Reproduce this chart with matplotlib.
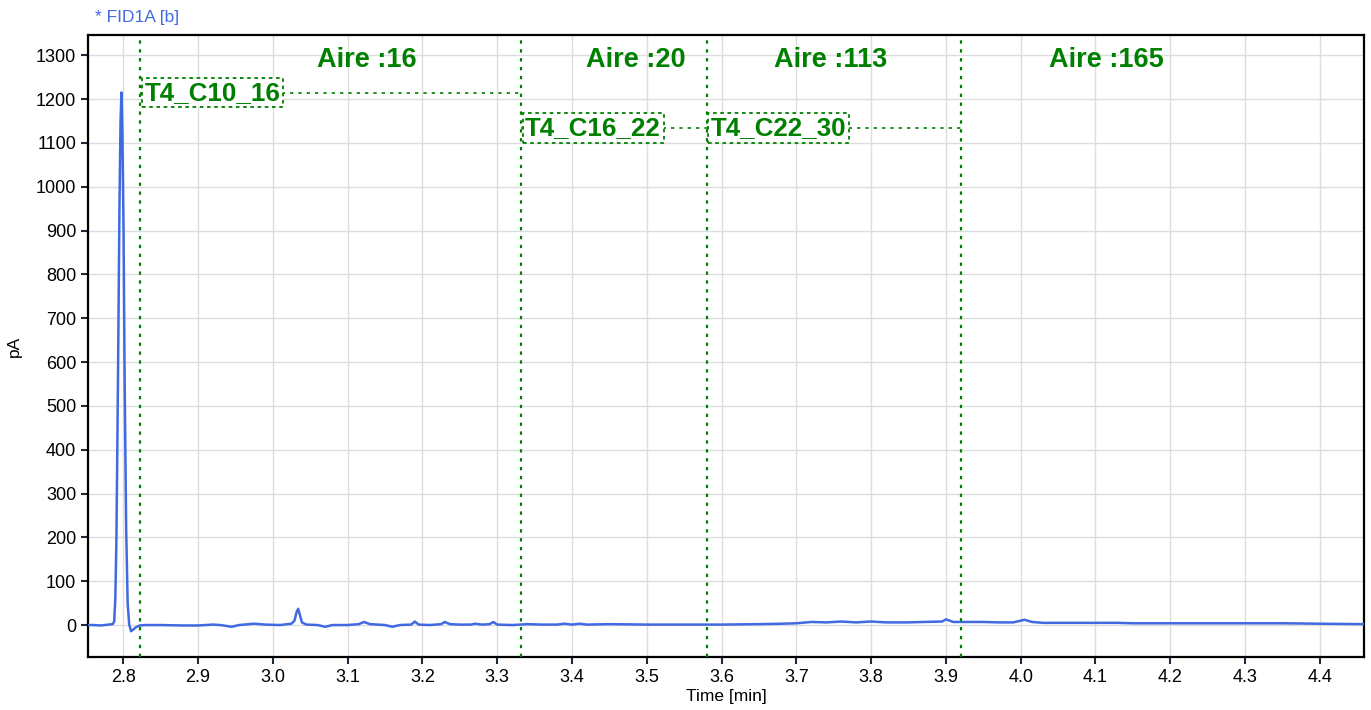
import matplotlib
matplotlib.use('Agg')
import matplotlib.pyplot as plt

plt.rcParams['font.family'] = ['Liberation Sans', 'DejaVu Sans']

# chromatogram trace (time in min, signal in pA)
time = [2.753, 2.76, 2.77, 2.78, 2.786, 2.788, 2.7895, 2.791, 2.793, 2.795, 2.7965, 2.7977,
        2.799, 2.8005, 2.802, 2.804, 2.806, 2.808, 2.8105, 2.813, 2.817, 2.822, 2.83,
        2.85, 2.88, 2.9, 2.92, 2.93, 2.945, 2.955, 2.975, 2.99, 3.01, 3.025, 3.029,
        3.032, 3.034, 3.036, 3.039, 3.045, 3.06, 3.07, 3.08, 3.1, 3.115, 3.122, 3.13,
        3.15, 3.16, 3.17, 3.185, 3.19, 3.195, 3.21, 3.225, 3.23, 3.237, 3.25, 3.265,
        3.27, 3.28, 3.29, 3.295, 3.3, 3.32, 3.34, 3.36, 3.38, 3.39, 3.4, 3.41, 3.42,
        3.45, 3.5, 3.55, 3.6, 3.65, 3.68, 3.7, 3.72, 3.74, 3.76, 3.78, 3.8, 3.82,
        3.85, 3.87, 3.895, 3.9, 3.91, 3.93, 3.95, 3.97, 3.99, 4.005, 4.015, 4.03,
        4.06, 4.1, 4.13, 4.15, 4.2, 4.25, 4.3, 4.35, 4.4, 4.459]
signal = [0, 0, -1, 1, 2, 8, 60, 200, 550, 950, 1150, 1215,
          1120, 900, 550, 220, 50, 2, -14, -11, -5, -1, 0,
          0, -1, -1, 1, 0, -4, 0, 3, 1, 0, 3, 10,
          30, 37, 25, 6, 1, 0, -4, 0, 0, 2, 7, 2,
          0, -4, 0, 1, 8, 1, 0, 2, 7, 2, 1, 1,
          3, 1, 2, 7, 1, 0, 2, 1, 1, 3, 1, 3, 1,
          2, 1, 1, 1, 2, 3, 4, 7, 6, 8, 6, 8, 6,
          6, 7, 8, 13, 7, 7, 7, 6, 6, 12, 7, 5,
          5, 5, 5, 4, 4, 4, 4, 4, 3, 2]

# integration windows
window_edges = [2.823, 3.332, 3.58, 3.92]
window_names = ['T4_C10_16', 'T4_C16_22', 'T4_C22_30']
window_label_y = [1214, 1134, 1134]
areas = ['Aire :16', 'Aire :20', 'Aire :113', 'Aire :165']
area_x = [3.126, 3.486, 3.746, 4.114]
area_y = 1290

blue = '#4169E1'
green = '#008000'

fig = plt.figure(figsize=(13.71, 7.10), dpi=100)
ax = fig.add_axes([0.0642, 0.0746, 0.9307, 0.8761])

ax.plot(time, signal, color=blue, lw=1.8, zorder=3)

for xv in window_edges:
    ax.axvline(xv, color=green, lw=1.6, ls=(0, (1.5, 2.5)), zorder=4)

for i, name in enumerate(window_names):
    x0 = window_edges[i]
    x1 = window_edges[i + 1]
    y = window_label_y[i]
    ax.plot([x0, x1], [y, y], color=green, lw=1.2, ls=(0, (2, 3)), zorder=4)
    ax.annotate(name, xy=(x0, y), xytext=(3, 0), textcoords='offset points',
                ha='left', va='center', fontsize=18.7, fontweight='bold', color=green,
                bbox=dict(boxstyle='square,pad=0.1', fc='white', ec=green,
                          ls=(0, (2, 2)), lw=1.3), zorder=5)

for xa, txt in zip(area_x, areas):
    ax.text(xa, area_y, txt, ha='center', va='center', fontsize=19.5,
            fontweight='bold', color=green, zorder=5)

ax.set_xlim(2.753, 4.459)
ax.set_ylim(-73, 1346)
ax.set_xticks([2.8 + 0.1 * i for i in range(17)])
ax.set_xticklabels(['%.1f' % (2.8 + 0.1 * i) for i in range(17)])
ax.set_yticks(range(0, 1301, 100))
ax.grid(color='#dddddd', lw=1)
ax.set_axisbelow(True)
ax.tick_params(direction='out', length=5, width=1.5, color='#1c2b3a',
               labelsize=13, colors='#1c2b3a', labelcolor='black')
for s in ax.spines.values():
    s.set_linewidth(1.6)
    s.set_color('black')

ax.set_xlabel('Time [min]', fontsize=12.5, labelpad=2)
ax.set_ylabel('pA', fontsize=12.5, labelpad=10)
fig.text(0.0693, 0.975, '* FID1A [b]', color=blue, fontsize=12.5, ha='left', va='center')

fig.savefig('out.png')
